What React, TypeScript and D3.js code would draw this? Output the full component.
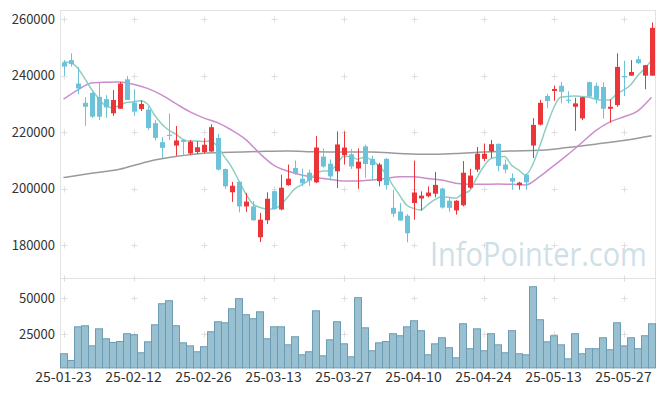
import React, { useRef, useEffect } from 'react';
import * as d3 from 'd3';

const dates = [
  '25-01-23', '25-01-24', '25-01-31', '25-02-03', '25-02-04', '25-02-05', '25-02-06', '25-02-07', '25-02-10', '25-02-11',
  '25-02-12', '25-02-13', '25-02-14', '25-02-17', '25-02-18', '25-02-19', '25-02-20', '25-02-21', '25-02-24', '25-02-25',
  '25-02-26', '25-02-27', '25-02-28', '25-03-04', '25-03-05', '25-03-06', '25-03-07', '25-03-10', '25-03-11', '25-03-12',
  '25-03-13', '25-03-14', '25-03-17', '25-03-18', '25-03-19', '25-03-20', '25-03-21', '25-03-24', '25-03-25', '25-03-26',
  '25-03-27', '25-03-28', '25-03-31', '25-04-01', '25-04-02', '25-04-03', '25-04-04', '25-04-07', '25-04-08', '25-04-09',
  '25-04-10', '25-04-11', '25-04-14', '25-04-15', '25-04-16', '25-04-17', '25-04-18', '25-04-21', '25-04-22', '25-04-23',
  '25-04-24', '25-04-25', '25-04-28', '25-04-29', '25-04-30', '25-05-02', '25-05-07', '25-05-08', '25-05-09', '25-05-12',
  '25-05-13', '25-05-14', '25-05-15', '25-05-16', '25-05-19', '25-05-20', '25-05-21', '25-05-22', '25-05-23', '25-05-26',
  '25-05-27', '25-05-28', '25-05-29', '25-05-30', '25-06-02',
];

const opens = [
  244700, 245500, 237200, 230400, 233900, 232500, 231700, 226700, 228300, 238700,
  230500, 228200, 228000, 223200, 216500, 219100, 215300, 217300, 212500, 213000,
  213000, 213200, 218000, 207000, 198800, 202500, 193800, 193800, 182900, 188900,
  199200, 192700, 201300, 207400, 203600, 205700, 202300, 211400, 208900, 206200,
  211900, 212200, 207200, 215000, 210600, 202700, 210600, 193300, 192000, 190500,
  195000, 196600, 197400, 198300, 200100, 195800, 192400, 194200, 200400, 206800,
  210600, 213200, 215900, 208600, 203800, 201300, 205000, 215300, 222700, 232800,
  234600, 236400, 231500, 229000, 224900, 237700, 236400, 236000, 228300, 229600,
  239900, 240000, 245800, 240000, 240000,
];
const highs = [
  245500, 247900, 243000, 232400, 234200, 237700, 233100, 234900, 237800, 239900,
  235200, 231300, 229100, 224300, 218300, 226600, 222200, 217500, 217300, 216800,
  217900, 222800, 219400, 207200, 202500, 202600, 198600, 195600, 191500, 198800,
  199500, 205000, 208600, 210000, 207100, 206800, 218700, 214300, 210400, 220300,
  220300, 214100, 214300, 215600, 211700, 209200, 210900, 199700, 195000, 191100,
  210000, 199100, 200900, 206000, 200400, 197000, 196000, 209800, 207100, 214800,
  216000, 217300, 216000, 210400, 205500, 202500, 205400, 225000, 231400, 233600,
  236500, 237800, 234500, 232200, 232500, 237900, 237500, 237700, 231600, 247900,
  245300, 245500, 247000, 243800, 258800,
];
const lows = [
  239900, 243200, 233400, 222300, 225000, 224300, 225100, 225800, 228300, 231400,
  225800, 227500, 220800, 217100, 210900, 217200, 211700, 212100, 212000, 212300,
  212600, 213000, 206500, 200000, 195400, 191700, 191900, 188700, 181200, 187600,
  192700, 192400, 201100, 205000, 200900, 201000, 202000, 207500, 202900, 200300,
  208600, 207000, 200000, 203900, 202900, 200900, 199700, 190100, 188700, 181100,
  189100, 192300, 197000, 197000, 193000, 191900, 190900, 193800, 200000, 206000,
  209800, 210900, 206200, 205500, 199700, 199700, 199700, 210900, 222400, 228500,
  231100, 230200, 230200, 220500, 224300, 232500, 230200, 224800, 223400, 229000,
  232800, 240000, 244200, 235200, 240000,
];
const closes = [
  243200, 244100, 235500, 229000, 225500, 225500, 228800, 231400, 237200, 231400,
  227300, 230000, 221500, 218000, 214500, 218700, 217100, 216600, 216700, 214700,
  215600, 221800, 206800, 200900, 201100, 193800, 195500, 188900, 189100, 196500,
  192900, 200400, 203600, 205600, 202000, 202900, 214600, 207900, 204400, 215700,
  214600, 207900, 209600, 208800, 208400, 208600, 201300, 191200, 188800, 184300,
  198700, 197600, 198700, 201400, 193400, 193300, 195800, 205700, 204700, 212400,
  212400, 215800, 208100, 206800, 202600, 202200, 202300, 222600, 230400, 231000,
  235300, 234300, 231100, 230200, 232400, 232600, 231800, 228300, 229000, 243100,
  239400, 241300, 244400, 243700, 256900,
];
const volumes = [
  11800, 7150, 30500, 31200, 17300, 29100, 22200, 19600, 20300, 25700,
  25000, 12500, 20100, 31900, 46500, 48600, 31200, 19400, 17300, 13200,
  16700, 27100, 34000, 33300, 43000, 50000, 38900, 36100, 40900, 22200,
  30500, 30500, 18000, 23600, 11100, 13200, 41600, 10400, 21500, 34000,
  18700, 9700, 50700, 29800, 13900, 19400, 20300, 25700, 24300, 30500,
  34700, 27800, 11100, 18700, 22900, 16000, 9000, 32600, 15300, 29100,
  13900, 25700, 18000, 12500, 27800, 11800, 11100, 58300, 35400, 20100,
  24300, 18000, 8300, 25700, 11800, 15300, 15300, 22900, 14600, 33300,
  17300, 22900, 15300, 24300, 32600,
];

// moving averages
const ma5 = [
  244800, 244600, 242800, 239100, 235200, 232000, 229400, 228700, 229500, 230500,
  230800, 231100, 230000, 226100, 223000, 220800, 219400, 217600, 216900, 216900,
  216700, 216900, 214900, 211300, 207800, 203100, 198400, 194800, 193500, 192900,
  192900, 194300, 197000, 199900, 201400, 202900, 205200, 206300, 206400, 208400,
  211400, 211400, 210500, 211200, 210200, 208200, 205500, 201400, 197800, 194300,
  193100, 192500, 194300, 196100, 197200, 197000, 196700, 198200, 199300, 203700,
  207800, 210600, 211200, 211400, 208400, 206700, 204900, 208400, 214900, 222000,
  228500, 232400, 232600, 232800, 232600, 232400, 231700, 231400, 231400, 233500,
  234900, 236700, 239900, 242400, 245500,
];
const ma20Days = [0, 2, 4, 6, 8, 10, 12, 14, 16, 18, 20, 22, 24, 26, 28, 30, 32, 34, 36, 38, 40, 42, 44, 46, 48, 50, 52, 54, 56, 58, 60, 62, 64, 66, 68, 70, 72, 74, 76, 78, 80, 82, 84];
const ma20 = [
  231700, 234900, 237400, 237700, 237800, 237000, 235500, 233200, 230200, 227300,
  225100, 223400, 220800, 217500, 212600, 208400, 206300, 204900, 204000, 203400,
  202800, 202800, 203100, 203700, 204300, 204300, 203700, 203100, 202000, 201600,
  201600, 201700, 201600, 201400, 204300, 208100, 212000, 216200, 220500, 223600,
  225400, 227500, 232400,
];
const ma60Days = [0, 4, 8, 12, 16, 20, 24, 28, 32, 36, 40, 44, 48, 52, 56, 60, 64, 68, 72, 76, 80, 84];
const ma60 = [
  204000, 205500, 206900, 209600, 211400, 212600, 212900, 213200, 213400, 213100,
  213000, 213000, 212500, 212200, 212500, 213000, 213400, 213600, 214600, 215800,
  217100, 218800,
];

const priceTicks = [180000, 200000, 220000, 240000, 260000];
const volumeTicks = [25000, 50000];

const UP = '#ec3539';
const DOWN = '#6cc2d9';
const FONT = '"Noto Sans CJK KR", "Noto Sans", sans-serif';

export default function App() {
  const svgRef = useRef(null);
  const width = 665;
  const height = 396;

  useEffect(() => {
    const svg = d3.select(svgRef.current);
    svg.selectAll('*').remove();

    const left = 60;
    const right = 655;
    const top = 10;
    const split = 278;

    const x = d3.scaleBand().domain(dates).range([left, right]).padding(0);
    const cx = (i) => x(dates[i]) + x.bandwidth() / 2;
    const y = d3.scaleLinear().domain([168500, 263200]).range([split, top]);
    const yv = d3.scaleLinear().domain([2000, 64000]).range([367.4, split]);

    svg.append('rect').attr('width', width).attr('height', height).attr('fill', '#fff');

    // frame
    const frame = svg.append('g').attr('stroke', '#e3e3e3').attr('fill', 'none');
    frame.append('line').attr('x1', left).attr('x2', right).attr('y1', top + 0.5).attr('y2', top + 0.5);
    frame.append('line').attr('x1', left).attr('x2', right).attr('y1', split + 0.5).attr('y2', split + 0.5);
    frame.append('line').attr('x1', left + 0.5).attr('x2', left + 0.5).attr('y1', top).attr('y2', yv(2000));
    frame.append('line').attr('x1', right + 0.5).attr('x2', right + 0.5).attr('y1', top).attr('y2', yv(2000));

    // grid crosses
    const tickIdx = d3.range(0, dates.length, 10);
    const crossYs = [...priceTicks.map((t) => y(t)), split, ...volumeTicks.map((t) => yv(t))];
    const grid = svg.append('g').attr('stroke', '#dedede').attr('stroke-width', 1);
    tickIdx.forEach((i) => {
      crossYs.forEach((gy) => {
        const px = Math.round(cx(i)) + 0.5;
        const py = Math.round(gy) + 0.5;
        grid.append('line').attr('x1', px - 3).attr('x2', px + 3).attr('y1', py).attr('y2', py);
        grid.append('line').attr('x1', px).attr('x2', px).attr('y1', py - 3).attr('y2', py + 3);
      });
    });

    // watermark, squeezed to the width seen in the reference
    const wm = svg.append('text')
      .attr('font-family', '"Open Sans", sans-serif')
      .attr('font-size', 32)
      .attr('fill', '#cfdfe8')
      .text('InfoPointer.com');
    const natural = wm.node().getComputedTextLength() || 217;
    wm.attr('transform', `translate(430, 266) scale(${217 / natural}, 1)`);

    // volume bars
    svg.append('g')
      .selectAll('rect')
      .data(volumes)
      .join('rect')
      .attr('x', (d, i) => x(dates[i]) + 0.5)
      .attr('width', x.bandwidth())
      .attr('y', (d) => yv(d) + 0.5)
      .attr('height', (d) => yv(2000) - yv(d))
      .attr('fill', 'rgba(128,176,198,0.8)')
      .attr('stroke', '#6c9cb3')
      .attr('stroke-width', 1);

    // moving averages
    const line = d3.line().curve(d3.curveMonotoneX);
    svg.append('path')
      .attr('d', line(ma60Days.map((d, k) => [cx(d), y(ma60[k])])))
      .attr('fill', 'none').attr('stroke', '#9a9a9a').attr('stroke-width', 1.5);
    svg.append('path')
      .attr('d', line(ma20Days.map((d, k) => [cx(d), y(ma20[k])])))
      .attr('fill', 'none').attr('stroke', '#cc8ecb').attr('stroke-width', 1.5);
    svg.append('path')
      .attr('d', line(ma5.map((v, i) => [cx(i), y(v)])))
      .attr('fill', 'none').attr('stroke', '#8ecfc3').attr('stroke-width', 1.5);

    // candles
    const candles = svg.append('g');
    dates.forEach((d, i) => {
      const up = closes[i] >= opens[i];
      const color = up ? UP : DOWN;
      const px = Math.round(cx(i)) + 0.5;
      candles.append('line')
        .attr('x1', px).attr('x2', px)
        .attr('y1', y(highs[i])).attr('y2', y(lows[i]))
        .attr('stroke', color).attr('stroke-width', 1);
      const y0 = y(Math.max(opens[i], closes[i]));
      const y1 = y(Math.min(opens[i], closes[i]));
      candles.append('rect')
        .attr('x', px - 2.5)
        .attr('width', 5)
        .attr('y', y0)
        .attr('height', Math.max(1, y1 - y0))
        .attr('fill', color);
    });

    // axis labels
    const labels = svg.append('g').attr('font-family', FONT).attr('font-size', 13).attr('fill', '#333');
    priceTicks.forEach((t) => {
      labels.append('text').attr('x', 55).attr('y', y(t)).attr('dy', '0.35em')
        .attr('text-anchor', 'end').text(String(t));
    });
    volumeTicks.forEach((t) => {
      labels.append('text').attr('x', 55).attr('y', yv(t)).attr('dy', '0.35em')
        .attr('text-anchor', 'end').text(String(t));
    });
    tickIdx.forEach((i) => {
      labels.append('text').attr('x', cx(i)).attr('y', 382)
        .attr('text-anchor', 'middle').attr('font-size', 14).text(dates[i]);
    });
  }, []);

  return (
    <svg
      ref={svgRef}
      width={width}
      height={height}
      style={{ position: 'absolute', left: 0, top: 0, display: 'block' }}
    />
  );
}
